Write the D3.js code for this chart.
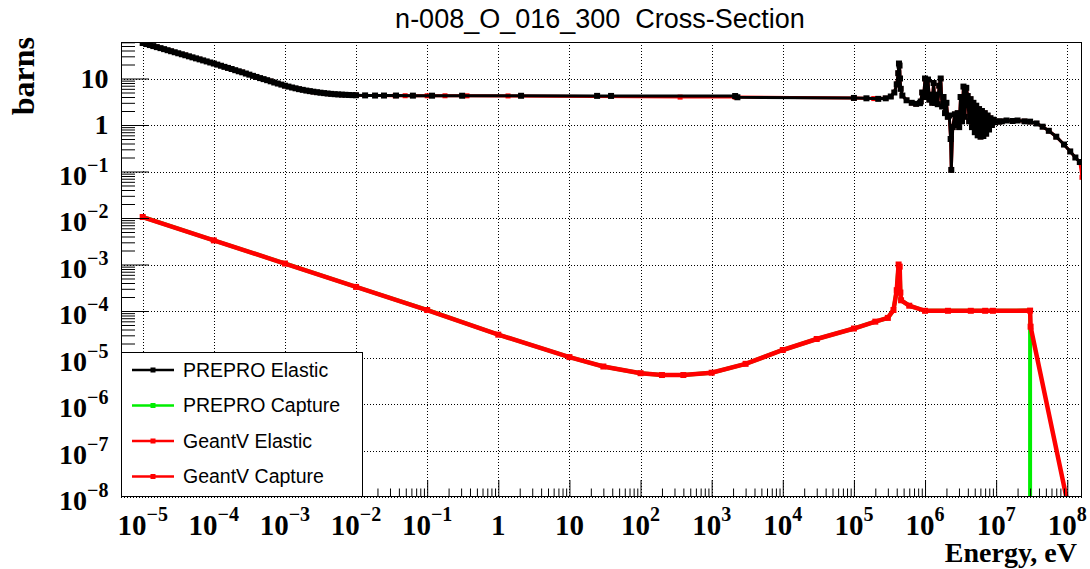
<!DOCTYPE html>
<html>
<head>
<meta charset="utf-8">
<script src="https://cdn.jsdelivr.net/npm/d3@7"></script>
<style>
  body { margin: 0; background: #fff; }
  svg { display: block; }
</style>
</head>
<body>
<svg id="chart" width="1090" height="569"></svg>
<script>
// ---------- data: O-16 neutron cross sections at 300 K, [energy (eV), sigma (barns)] ----------
const elasticThermal = [
  [1e-5, 58], [1.12e-5, 55.1], [1.26e-5, 52.4], [1.41e-5, 49.8], [1.58e-5, 47.3],
  [1.78e-5, 45.0], [2e-5, 42.8], [2.24e-5, 40.6], [2.51e-5, 38.6], [2.82e-5, 36.7],
  [3.16e-5, 34.9], [3.55e-5, 33.2], [3.98e-5, 31.6], [4.47e-5, 30.0], [5.01e-5, 28.5],
  [5.62e-5, 27.1], [6.31e-5, 25.8], [7.08e-5, 24.5], [7.94e-5, 23.3], [8.91e-5, 22.1],
  [1e-4, 21.0], [1.12e-4, 19.9], [1.26e-4, 18.8], [1.41e-4, 17.8], [1.58e-4, 16.9],
  [1.78e-4, 16.0], [2e-4, 15.1], [2.24e-4, 14.3], [2.51e-4, 13.6], [2.82e-4, 12.8],
  [3.16e-4, 12.1], [3.55e-4, 11.4], [3.98e-4, 10.8], [4.47e-4, 10.2], [5.01e-4, 9.7],
  [5.62e-4, 9.2], [6.31e-4, 8.7], [7.08e-4, 8.2], [7.94e-4, 7.8], [8.91e-4, 7.4],
  [1e-3, 7.0], [1.12e-3, 6.7], [1.26e-3, 6.4], [1.41e-3, 6.15], [1.58e-3, 5.9],
  [1.78e-3, 5.7], [2e-3, 5.5], [2.24e-3, 5.35], [2.51e-3, 5.2], [2.82e-3, 5.07],
  [3.16e-3, 4.95], [3.55e-3, 4.85], [3.98e-3, 4.75], [4.47e-3, 4.67], [5.01e-3, 4.6],
  [5.62e-3, 4.55], [6.31e-3, 4.5], [7.08e-3, 4.46], [7.94e-3, 4.42], [8.91e-3, 4.39],
  [1e-2, 4.37]
];
const elasticFlat = [
  [0.0134, 4.33], [0.0185, 4.3], [0.0247, 4.3], [0.0365, 4.3], [0.063, 4.28],
  [0.117, 4.27], [0.31, 4.26], [2.09, 4.25], [24.5, 4.23], [38.5, 4.22], [2140, 4.2],
  [2300, 3.95], [1.0e5, 3.82]
];
const elasticResonance = [
  [1.5e5, 3.75], [2.2e5, 3.65], [2.8e5, 3.75], [3.3e5, 4.1], [3.7e5, 5.0], [4.0e5, 7.5],
  [4.2e5, 13], [4.3e5, 21], [4.38e5, 19], [4.45e5, 10], [4.55e5, 6], [4.8e5, 4.3],
  [5.5e5, 3.4], [6.5e5, 3.0], [7.5e5, 2.85], [8.5e5, 2.95], [8.71e5, 3.2], [9.12e5, 5],
  [9.55e5, 4], [1e6, 10], [1.05e6, 4], [1.1e6, 9.5], [1.15e6, 3.5], [1.2e6, 4.5],
  [1.26e6, 3.0], [1.32e6, 8], [1.38e6, 3.0], [1.45e6, 4.5], [1.51e6, 2.8], [1.58e6, 7],
  [1.66e6, 10], [1.74e6, 2.5], [1.82e6, 4.0], [1.91e6, 1.8], [2.0e6, 3.0], [2.09e6, 1.5],
  [2.19e6, 1.6], [2.29e6, 0.5], [2.34e6, 0.108], [2.45e6, 0.9], [2.63e6, 1.7],
  [2.75e6, 1.0], [2.88e6, 1.8], [3.02e6, 0.9], [3.16e6, 4], [3.31e6, 1.2], [3.47e6, 6.7],
  [3.63e6, 1.5], [3.8e6, 6.3], [3.98e6, 4.2], [4.17e6, 1.2], [4.37e6, 3.6], [4.57e6, 0.9],
  [4.79e6, 3.0], [5.01e6, 0.7], [5.25e6, 2.6], [5.5e6, 0.6], [5.75e6, 2.2], [6.03e6, 0.56],
  [6.31e6, 2.0], [6.61e6, 0.58], [6.92e6, 1.8], [7.24e6, 0.65], [7.59e6, 1.6], [7.94e6, 0.8],
  [8.32e6, 1.4], [8.71e6, 1.0], [9.12e6, 1.3], [9.55e6, 1.15], [1e7, 1.2]
];
const elasticFast = [
  [1.1e7, 1.18], [1.2e7, 1.2], [1.4e7, 1.25], [1.7e7, 1.22], [2e7, 1.25], [2.5e7, 1.2],
  [3e7, 1.18], [3.7e7, 1.08], [4.5e7, 0.92], [5.5e7, 0.75], [7e7, 0.56], [9e7, 0.38],
  [1.1e8, 0.27], [1.3e8, 0.2], [1.5e8, 0.16]
];
const prepoElastic = elasticThermal.concat(elasticFlat, elasticResonance, elasticFast);

const geantvElastic = [
  [1e-5, 58], [1.58e-5, 47.3], [2.51e-5, 38.6], [3.98e-5, 31.6], [6.31e-5, 25.8],
  [1e-4, 21.0], [1.58e-4, 16.9], [2.51e-4, 13.6], [3.98e-4, 10.8], [6.31e-4, 8.7],
  [1e-3, 7.0], [1.58e-3, 5.9], [2.51e-3, 5.2], [3.98e-3, 4.75], [6.31e-3, 4.5],
  [1e-2, 4.37], [0.0355, 4.26], [0.049, 4.26], [0.1, 4.25], [0.178, 4.25], [0.363, 4.24],
  [1.37, 4.22], [360, 3.98], [2140, 3.98], [1.0e5, 3.8], [1.9e5, 3.7]
].concat(elasticResonance.slice(2), elasticFast.slice(0, -1), [[1.5e8, 0.16], [1.61e8, 0.075]]);

const prepoCapture = [
  [1e-5, 1.05e-2], [1e-4, 3.3e-3], [1e-3, 1.05e-3], [1e-2, 3.3e-4], [0.1, 1.05e-4],
  [1, 3.1e-5], [10, 1.02e-5], [30, 6.4e-6], [100, 4.6e-6], [200, 4.2e-6], [400, 4.2e-6],
  [1000, 4.7e-6], [3000, 7.3e-6], [1e4, 1.45e-5], [3e4, 2.5e-5], [1e5, 4.2e-5],
  [2e5, 5.9e-5], [3e5, 7.1e-5], [3.6e5, 1.05e-4], [4.0e5, 2.8e-4], [4.25e5, 1.0e-3],
  [4.4e5, 9.0e-4], [4.5e5, 2.5e-4], [4.6e5, 1.7e-4], [6e5, 1.3e-4], [1e6, 1.01e-4],
  [3e6, 1.01e-4], [1e7, 1.01e-4], [3e7, 1.02e-4], [3e7, 1e-10]
];
const geantvCapture = [
  [1e-5, 1.05e-2], [1e-4, 3.3e-3], [1e-3, 1.05e-3], [1e-2, 3.3e-4], [0.1, 1.05e-4],
  [1, 3.1e-5], [10, 1.02e-5], [30, 6.4e-6], [100, 4.6e-6], [200, 4.2e-6], [400, 4.2e-6],
  [1000, 4.7e-6], [3000, 7.3e-6], [1e4, 1.45e-5], [3e4, 2.5e-5], [1e5, 4.2e-5],
  [2e5, 5.9e-5], [3e5, 7.1e-5], [3.6e5, 1.05e-4], [4.0e5, 2.8e-4], [4.25e5, 1.0e-3],
  [4.4e5, 9.0e-4], [4.5e5, 2.5e-4], [4.6e5, 1.7e-4], [6e5, 1.3e-4], [1e6, 1.01e-4],
  [2.1e6, 1.01e-4], [4.4e6, 1.01e-4], [7e6, 1.01e-4], [9e6, 1.01e-4], [3e7, 1.02e-4],
  [3.05e7, 4.6e-5], [1.0e8, 8e-9]
];

const legendLabels = ["PREPRO Elastic", "PREPRO Capture", "GeantV Elastic", "GeantV Capture"];
const legendColors = ["#000000", "#00ee00", "#ff0000", "#ff0000"];

const xTickValues = [1e-5, 1e-4, 1e-3, 1e-2, 1e-1, 1, 10, 1e2, 1e3, 1e4, 1e5, 1e6, 1e7, 1e8];
const xTickLabels = [["10", "\u22125"], ["10", "\u22124"], ["10", "\u22123"], ["10", "\u22122"],
  ["10", "\u22121"], ["1", ""], ["10", ""], ["10", "2"], ["10", "3"], ["10", "4"],
  ["10", "5"], ["10", "6"], ["10", "7"], ["10", "8"]];
const yTickValues = [10, 1, 1e-1, 1e-2, 1e-3, 1e-4, 1e-5, 1e-6, 1e-7, 1e-8];
const yTickLabels = [["10", ""], ["1", ""], ["10", "\u22121"], ["10", "\u22122"], ["10", "\u22123"],
  ["10", "\u22124"], ["10", "\u22125"], ["10", "\u22126"], ["10", "\u22127"], ["10", "\u22128"]];

const titleText = "n-008_O_016_300  Cross-Section";
const xTitle = "Energy, eV";
const yTitle = "barns";

// ---------- layout ----------
const frame = { left: 121, right: 1082, top: 42, bottom: 497 };
const serif = "'Liberation Serif', 'Times New Roman', serif";
const sans = "'Liberation Sans', Arial, Helvetica, sans-serif";

const x = d3.scaleLog().domain([Math.pow(10, -5.305), Math.pow(10, 8.207)]).range([frame.left, frame.right]);
const y = d3.scaleLog().domain([1e-8, Math.pow(10, 1.785)]).range([frame.bottom, frame.top]);

const svg = d3.select("#chart");
svg.append("rect").attr("width", 1090).attr("height", 569).attr("fill", "#fff");

svg.append("defs").append("clipPath").attr("id", "plotClip")
  .append("rect")
  .attr("x", frame.left).attr("y", frame.top)
  .attr("width", frame.right - frame.left).attr("height", frame.bottom - frame.top);

// ---------- dotted grid at the decades ----------
const grid = svg.append("g").attr("stroke", "#000").attr("stroke-width", 1).attr("stroke-dasharray", "1,2");
grid.selectAll("line.gx").data(xTickValues).join("line").attr("class", "gx")
  .attr("x1", d => Math.round(x(d)) + 0.5).attr("x2", d => Math.round(x(d)) + 0.5)
  .attr("y1", frame.top).attr("y2", frame.bottom);
grid.selectAll("line.gy").data(yTickValues).join("line").attr("class", "gy")
  .attr("y1", d => Math.round(y(d)) + 0.5).attr("y2", d => Math.round(y(d)) + 0.5)
  .attr("x1", frame.left).attr("x2", frame.right);

// ---------- curves ----------
const plot = svg.append("g").attr("clip-path", "url(#plotClip)");
const line = d3.line().x(d => x(d[0])).y(d => y(d[1]));

function drawSeries(pts, color, lineWidth, markerSize) {
  const g = plot.append("g");
  g.append("path").datum(pts)
    .attr("d", line)
    .attr("fill", "none")
    .attr("stroke", color)
    .attr("stroke-width", lineWidth)
    .attr("stroke-linejoin", "miter")
    .attr("stroke-miterlimit", 2);
  if (markerSize > 0) {
    g.selectAll("rect").data(pts).join("rect")
      .attr("x", d => x(d[0]) - markerSize / 2)
      .attr("y", d => y(d[1]) - markerSize / 2)
      .attr("width", markerSize).attr("height", markerSize)
      .attr("fill", color);
  }
}

drawSeries(geantvElastic, legendColors[2], 3, 5);
drawSeries(prepoElastic, legendColors[0], 3, 6);
drawSeries(prepoCapture, legendColors[1], 4, 0);
drawSeries(geantvCapture, legendColors[3], 4.5, 6);

// ---------- axes ----------
const xMinor = [], yMinor = [];
for (let d = -6; d <= 8; d++) for (let k = 2; k <= 9; k++) {
  const v = k * Math.pow(10, d);
  if (v > x.domain()[0] && v < x.domain()[1]) xMinor.push(v);
}
for (let d = -9; d <= 1; d++) for (let k = 2; k <= 9; k++) {
  const v = k * Math.pow(10, d);
  if (v > y.domain()[0] && v < y.domain()[1]) yMinor.push(v);
}

function styleAxis(g) { g.select(".domain").remove(); g.selectAll("text").remove(); g.selectAll("line").attr("stroke", "#000"); }

svg.append("g").attr("transform", `translate(0,${frame.bottom})`)
  .call(d3.axisBottom(x).tickValues(xTickValues).tickSize(-17).tickFormat("")).call(styleAxis);
svg.append("g").attr("transform", `translate(0,${frame.bottom})`)
  .call(d3.axisBottom(x).tickValues(xMinor).tickSize(-8.5).tickFormat("")).call(styleAxis);
svg.append("g").attr("transform", `translate(${frame.left},0)`)
  .call(d3.axisLeft(y).tickValues(yTickValues.filter(v => v > 1e-8)).tickSize(-28).tickFormat("")).call(styleAxis);
svg.append("g").attr("transform", `translate(${frame.left},0)`)
  .call(d3.axisLeft(y).tickValues(yMinor).tickSize(-14).tickFormat("")).call(styleAxis);

// frame
svg.append("rect")
  .attr("x", frame.left + 0.5).attr("y", frame.top + 0.5)
  .attr("width", frame.right - frame.left - 1).attr("height", frame.bottom - frame.top - 1)
  .attr("fill", "none").attr("stroke", "#000").attr("stroke-width", 1);

// ---------- tick labels ----------
const xLab = svg.append("g").attr("font-family", serif).attr("font-weight", "bold").attr("fill", "#000");
xTickValues.forEach((v, i) => {
  const [base, exp] = xTickLabels[i];
  const t = xLab.append("text").attr("x", x(v)).attr("y", 535).attr("text-anchor", "middle");
  t.append("tspan").attr("font-size", 29).text(base);
  if (exp) t.append("tspan").attr("font-size", 20).attr("dy", -14).text(exp);
});

const yLab = svg.append("g").attr("font-family", serif).attr("font-weight", "bold").attr("fill", "#000");
yTickValues.forEach((v, i) => {
  const [base, exp] = yTickLabels[i];
  const t = yLab.append("text").attr("x", 108.5).attr("y", y(v) + (exp ? 13 : 9)).attr("text-anchor", "end");
  t.append("tspan").attr("font-size", 28).text(base);
  if (exp) t.append("tspan").attr("font-size", 20).attr("dy", -13).text(exp);
});

// ---------- titles ----------
svg.append("text").attr("x", 600).attr("y", 28).attr("text-anchor", "middle")
  .attr("font-family", sans).attr("font-size", 27).attr("fill", "#000")
  .style("white-space", "pre").text(titleText);

svg.append("text").attr("x", 1077).attr("y", 562).attr("text-anchor", "end")
  .attr("font-family", serif).attr("font-weight", "bold").attr("font-size", 28).text(xTitle);

svg.append("text").attr("transform", "translate(34,37) rotate(-90)").attr("text-anchor", "end")
  .attr("font-family", serif).attr("font-weight", "bold").attr("font-size", 32).text(yTitle);

// ---------- legend ----------
const leg = svg.append("g");
leg.append("rect").attr("x", 121.5).attr("y", 352.5).attr("width", 241).attr("height", 144)
  .attr("fill", "#fff").attr("stroke", "#000").attr("stroke-width", 1);
const legY = [370, 405.5, 441, 476.5];
legendLabels.forEach((lab, i) => {
  leg.append("line").attr("x1", 132).attr("x2", 174).attr("y1", legY[i]).attr("y2", legY[i])
    .attr("stroke", legendColors[i]).attr("stroke-width", 2.5);
  leg.append("rect").attr("x", 150.5).attr("y", legY[i] - 2.5).attr("width", 5).attr("height", 5)
    .attr("fill", legendColors[i]);
  leg.append("text").attr("x", 183).attr("y", legY[i] + 6.5)
    .attr("font-family", sans).attr("font-size", 19.5).attr("fill", "#000").text(lab);
});
</script>
</body>
</html>
